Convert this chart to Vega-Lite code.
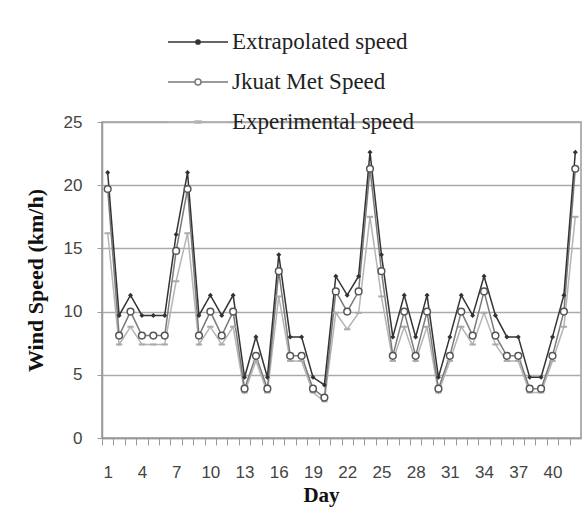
{
  "$schema": "https://vega.github.io/schema/vega-lite/v6.json",
  "width": 479,
  "height": 316,
  "autosize": {"type": "none"},
  "padding": {"left": 102, "top": 122, "right": 4, "bottom": 91},
  "background": "white",
  "config": {"view": {"stroke": "#999", "strokeWidth": 1.5}},
  "datasets": {
    "wind": [
      {"day": 1, "E": 21.0, "J": 19.7, "X": 16.2},
      {"day": 2, "E": 9.7, "J": 8.1, "X": 7.4},
      {"day": 3, "E": 11.3, "J": 10.0, "X": 8.8},
      {"day": 4, "E": 9.7, "J": 8.1, "X": 7.4},
      {"day": 5, "E": 9.7, "J": 8.1, "X": 7.4},
      {"day": 6, "E": 9.7, "J": 8.1, "X": 7.4},
      {"day": 7, "E": 16.1, "J": 14.8, "X": 12.4},
      {"day": 8, "E": 21.0, "J": 19.7, "X": 16.2},
      {"day": 9, "E": 9.7, "J": 8.1, "X": 7.4},
      {"day": 10, "E": 11.3, "J": 10.0, "X": 8.8},
      {"day": 11, "E": 9.7, "J": 8.1, "X": 7.4},
      {"day": 12, "E": 11.3, "J": 10.0, "X": 8.8},
      {"day": 13, "E": 4.8, "J": 3.9, "X": 3.6},
      {"day": 14, "E": 8.0, "J": 6.5, "X": 6.1},
      {"day": 15, "E": 4.8, "J": 3.9, "X": 3.6},
      {"day": 16, "E": 14.5, "J": 13.2, "X": 11.2},
      {"day": 17, "E": 8.0, "J": 6.5, "X": 6.1},
      {"day": 18, "E": 8.0, "J": 6.5, "X": 6.1},
      {"day": 19, "E": 4.8, "J": 3.9, "X": 3.6},
      {"day": 20, "E": 4.2, "J": 3.2, "X": 2.9},
      {"day": 21, "E": 12.8, "J": 11.6, "X": 9.9},
      {"day": 22, "E": 11.3, "J": 10.0, "X": 8.6},
      {"day": 23, "E": 12.8, "J": 11.6, "X": 9.9},
      {"day": 24, "E": 22.6, "J": 21.3, "X": 17.5},
      {"day": 25, "E": 14.5, "J": 13.2, "X": 11.2},
      {"day": 26, "E": 8.0, "J": 6.5, "X": 6.1},
      {"day": 27, "E": 11.3, "J": 10.0, "X": 8.8},
      {"day": 28, "E": 8.0, "J": 6.5, "X": 6.1},
      {"day": 29, "E": 11.3, "J": 10.0, "X": 8.8},
      {"day": 30, "E": 4.8, "J": 3.9, "X": 3.6},
      {"day": 31, "E": 8.0, "J": 6.5, "X": 6.1},
      {"day": 32, "E": 11.3, "J": 10.0, "X": 8.8},
      {"day": 33, "E": 9.7, "J": 8.1, "X": 7.4},
      {"day": 34, "E": 12.8, "J": 11.6, "X": 9.9},
      {"day": 35, "E": 9.7, "J": 8.1, "X": 7.4},
      {"day": 36, "E": 8.0, "J": 6.5, "X": 6.1},
      {"day": 37, "E": 8.0, "J": 6.5, "X": 6.1},
      {"day": 38, "E": 4.8, "J": 3.9, "X": 3.6},
      {"day": 39, "E": 4.8, "J": 3.9, "X": 3.6},
      {"day": 40, "E": 8.0, "J": 6.5, "X": 6.1},
      {"day": 41, "E": 11.3, "J": 10.0, "X": 8.8},
      {"day": 42, "E": 22.6, "J": 21.3, "X": 17.5}
    ]
  },
  "data": {"name": "wind"},
  "transform": [
    {"fold": ["X", "J", "E"], "as": ["key", "speed"]},
    {"lookup": "key", "from": {"data": {"values": [
      {"key": "E", "series": "Extrapolated speed"},
      {"key": "J", "series": "Jkuat Met  Speed"},
      {"key": "X", "series": "Experimental speed"}
    ]}, "key": "key", "fields": ["series"]}}
  ],
  "encoding": {
    "x": {
      "field": "day", "type": "quantitative",
      "scale": {"domain": [0.5, 42.5], "nice": false, "zero": false},
      "axis": {
        "values": [1,2,3,4,5,6,7,8,9,10,11,12,13,14,15,16,17,18,19,20,21,22,23,24,25,26,27,28,29,30,31,32,33,34,35,36,37,38,39,40,41,42],
        "labelExpr": "(datum.value - 1) % 3 == 0 ? datum.label : ''",
        "labelOverlap": false,
        "grid": false,
        "tickOffset": -5.7,
        "labelOffset": 5.7,
        "tickSize": 7,
        "tickColor": "#999",
        "domainColor": "#999",
        "domainWidth": 1.5,
        "labelFont": "Liberation Sans",
        "labelFontSize": 17,
        "labelColor": "#444",
        "labelPadding": 19,
        "title": "Day",
        "titleFont": "Liberation Serif",
        "titleFontSize": 21,
        "titleFontWeight": "bold",
        "titleColor": "#111",
        "titlePadding": 4,
        "titleX": 219
      }
    },
    "y": {
      "field": "speed", "type": "quantitative",
      "scale": {"domain": [0, 25], "nice": false},
      "axis": {
        "values": [0, 5, 10, 15, 20, 25],
        "title": "Wind Speed (km/h)",
        "titleFont": "Liberation Serif",
        "titleFontSize": 22,
        "titleFontWeight": "bold",
        "titleColor": "#111",
        "titlePadding": 16,
        "labelFont": "Liberation Sans",
        "labelFontSize": 17,
        "labelColor": "#444",
        "labelPadding": 15,
        "tickSize": 5,
        "tickColor": "#999",
        "domainColor": "#999",
        "domainWidth": 1.5,
        "gridColor": "#aaa",
        "gridWidth": 1.5
      }
    }
  },
  "layer": [
    {
      "mark": {"type": "line", "strokeWidth": 1.5},
      "encoding": {
        "color": {
          "field": "series", "type": "nominal",
          "scale": {"domain": ["Extrapolated speed", "Jkuat Met  Speed", "Experimental speed"], "range": ["#333333", "#7a7a7a", "#b5b5b5"]},
          "legend": {
            "orient": "none",
            "legendX": 65,
            "legendY": -95,
            "title": null,
            "padding": 0,
            "symbolSize": 3600,
            "clipHeight": 30,
            "rowPadding": 10,
            "symbolStrokeWidth": 1.5,
            "labelFont": "Liberation Serif",
            "labelFontSize": 23,
            "labelColor": "#222",
            "labelOffset": 3,
            "labelLimit": 400,
            "encode": {
              "symbols": {
                "update": {
                  "shape": {"signal": "datum.value === 'Jkuat Met  Speed' ? 'M-1,0H-0.1M0.1,0H1M-0.1,0A0.1,0.1 0 1,1 0.1,0A0.1,0.1 0 1,1 -0.1,0Z' : (datum.value === 'Extrapolated speed' ? 'M-1,0H1M-0.07,0A0.07,0.07 0 1,1 0.07,0A0.07,0.07 0 1,1 -0.07,0Z' : 'M-1,0H-0.1M0.1,0H1M-0.1,-0.03H0.1V0.03H-0.1Z')"},
                  "fill": {"signal": "datum.value === 'Jkuat Met  Speed' ? '#ffffff' : (datum.value === 'Extrapolated speed' ? '#333333' : '#aaaaaa')"}
                }
              }
            }
          }
        }
      }
    },
    {
      "transform": [{"filter": "datum.key === 'X'"}],
      "mark": {"type": "point", "shape": "stroke", "size": 40, "stroke": "#aaaaaa", "strokeWidth": 2, "opacity": 1}
    },
    {
      "transform": [{"filter": "datum.key === 'J'"}],
      "mark": {"type": "point", "shape": "circle", "size": 45, "fill": "#ffffff", "stroke": "#555555", "strokeWidth": 1.5, "opacity": 1}
    },
    {
      "transform": [{"filter": "datum.key === 'E'"}],
      "mark": {"type": "point", "shape": "diamond", "size": 25, "filled": true, "color": "#333333", "opacity": 1}
    }
  ]
}
